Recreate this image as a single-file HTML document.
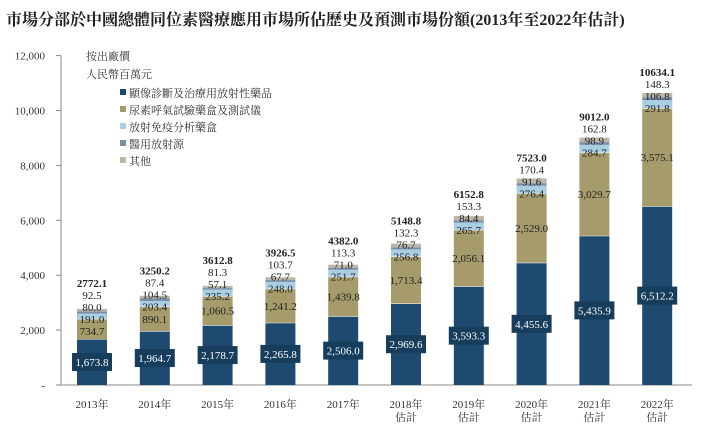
<!DOCTYPE html>
<html><head><meta charset="utf-8"><style>
body{margin:0;background:#fff;}
svg text{font-family:"Liberation Serif","Noto Serif CJK SC","Noto Sans CJK TC",serif;}
</style></head><body>
<svg id="c" width="709" height="432" viewBox="0 0 709 432" xmlns="http://www.w3.org/2000/svg">
<text x="6" y="25" font-size="16" font-weight="bold" fill="#222">市場分部於中國總體同位素醫療應用市場所佔歷史及預測市場份額(2013年至2022年估計)</text>
<text x="86" y="60" font-size="11" fill="#333">按出廠價</text>
<text x="86" y="78" font-size="11" fill="#333">人民幣百萬元</text>
<g id="legend"></g>
<g id="axes"></g>
<g id="bars"></g>
</svg>
<script>
const categories=["2013年","2014年","2015年","2016年","2017年","2018年\n估計","2019年\n估計","2020年\n估計","2021年\n估計","2022年\n估計"];
const imaging=[1673.8,1964.7,2178.7,2265.8,2506.0,2969.6,3593.3,4455.6,5435.9,6512.2];
const ureaKits=[734.7,890.1,1060.5,1241.2,1439.8,1713.4,2056.1,2529.0,3029.7,3575.1];
const riaKits=[191.0,203.4,235.2,248.0,251.7,256.8,265.7,276.4,284.7,291.8];
const sources=[80.0,104.5,57.1,67.7,71.0,76.7,84.4,91.6,98.9,106.8];
const others=[92.5,87.4,81.3,103.7,113.3,132.3,153.3,170.4,162.8,148.3];
const totals=["2772.1","3250.2","3612.8","3926.5","4382.0","5148.8","6152.8","7523.0","9012.0","10634.1"];
const yTicks=[0,2000,4000,6000,8000,10000,12000];
const seriesNames=["顯像診斷及治療用放射性藥品","尿素呼氣試驗藥盒及測試儀","放射免疫分析藥盒","醫用放射源","其他"];
const colors=["#1d4a6e","#a59b6b","#a9cfe4","#7c8fa8","#bbb6a8"];
const NS="http://www.w3.org/2000/svg";
const svg=document.getElementById('c');
const y0=385,k=27.45/1000;
const y=v=>y0-v*k;
const x=i=>92+i*62.8;
const bw=30;
function mk(t,a,p){const e=document.createElementNS(NS,t);for(const n in a)e.setAttribute(n,a[n]);(p||svg).appendChild(e);return e;}
function fmt(v){return v.toLocaleString('en-US',{minimumFractionDigits:1,maximumFractionDigits:1});}
const axes=document.getElementById('axes'),bars=document.getElementById('bars'),lg=document.getElementById('legend');
// legend
seriesNames.forEach((n,i)=>{
 const yy=93+i*17;
 const r=mk('rect',{x:120,y:yy-4,width:6,height:6,fill:colors[i]},lg);
 
 
 const t=mk('text',{x:129,y:yy+4,'font-size':11,fill:'#333'},lg);
 t.textContent=n;
 
 
});
// axes
const ya=mk('line',{x1:61,y1:y(12000),x2:61,y2:y0,stroke:'#888','stroke-width':1},axes);


const xa=mk('line',{x1:61,y1:y0,x2:692,y2:y0,stroke:'#888','stroke-width':1},axes);


yTicks.forEach(v=>{
 mk('line',{x1:56,y1:y(v),x2:61,y2:y(v),stroke:'#888'},axes);
 const t=mk('text',{x:45,y:y(v)+4,'font-size':11,fill:'#333','text-anchor':'end'},axes);
 t.textContent=v===0?'-':v.toLocaleString('en-US');
 
 
});
categories.forEach((c,i)=>{
 const cx=x(i);
 const segs=[imaging[i],ureaKits[i],riaKits[i],sources[i],others[i]];
 let acc=0;const tops=[];
 segs.forEach((v,j)=>{
  const r=mk('rect',{x:cx-bw/2,y:y(acc+v),width:bw,height:Math.max(0,y(acc)-y(acc+v)),fill:colors[j]},bars);
  
  
  if(j<2) mk('line',{x1:cx-bw/2,x2:cx+bw/2,y1:y(acc+v),y2:y(acc+v),stroke:'#fff','stroke-width':1},bars);
  acc+=v;tops.push(acc);
 });
 // navy label box
 const ly=(y(0)+y(imaging[i]))/2;
 const s=fmt(imaging[i]);
 const bx=mk('rect',{x:cx-20,y:ly-9,width:40,height:18,fill:'#173d5c'},bars);
 
 
 const t1=mk('text',{x:cx,y:ly+4,'font-size':11,fill:'#fff','text-anchor':'middle'},bars);
 t1.textContent=s;
 
 
 const ot=y(tops[1]);
 const l3=ot+4;
 let l2=(y(tops[0])+ot)/2+4;if(l2<l3+12)l2=l3+12;
 const labs=[[l2,fmt(ureaKits[i]),'normal'],[l3,fmt(riaKits[i]),'normal'],[l3-12,fmt(sources[i]),'normal'],[l3-24,fmt(others[i]),'normal'],[l3-36,totals[i],'bold']];
 labs.forEach(([yy,tx,fw])=>{
  const t=mk('text',{x:cx,y:yy,'font-size':11,fill:'#222','text-anchor':'middle','font-weight':fw},bars);
  t.textContent=tx;
  
  
 });
 c.split('\n').forEach((ln,m)=>{
  const t=mk('text',{x:cx,y:408+m*13,'font-size':11,fill:'#333','text-anchor':'middle'},axes);
  t.textContent=ln;
  
  
 });
});
</script>
</body></html>
